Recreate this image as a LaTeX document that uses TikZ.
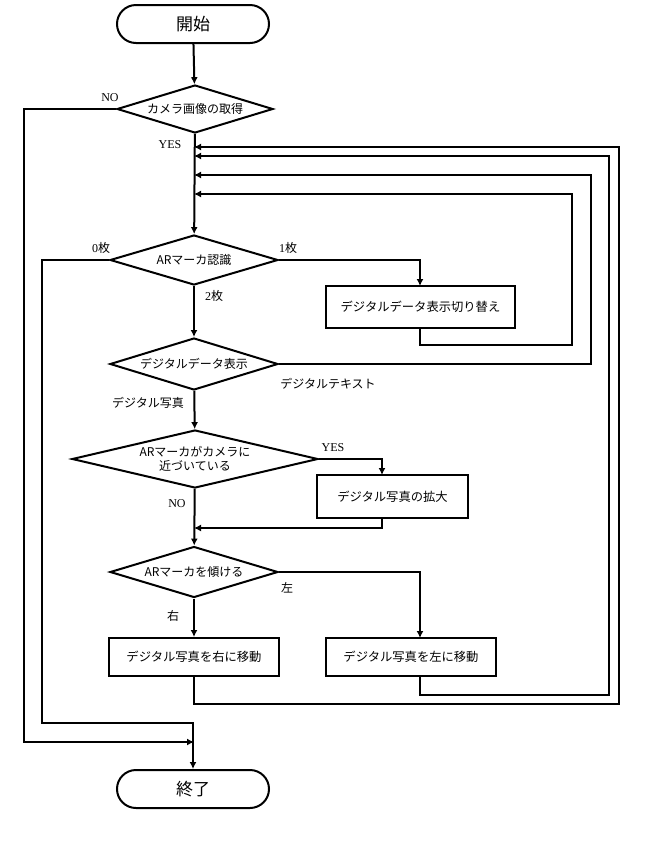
\documentclass[tikz,border=0pt]{standalone}
\usepackage{fontspec}
\setmainfont{Liberation Serif}
\newfontfamily\jp{Noto Sans CJK JP}
\usetikzlibrary{shapes.geometric,shapes.misc,arrows.meta}
\begin{document}
\begin{tikzpicture}[x=1pt,y=-1pt,line width=2pt,
  >={Latex[length=7pt,width=7pt]},
  term/.style={rounded rectangle,draw,minimum width=152pt,minimum height=38pt,inner sep=0pt,font=\jp\fontsize{17}{20}\selectfont},
  dec/.style={diamond,draw,inner sep=0pt,aspect=3.3,align=center,font=\jp\fontsize{12}{14}\selectfont},
  proc/.style={rectangle,draw,inner sep=0pt,font=\jp\fontsize{12.3}{14}\selectfont},
  lbl/.style={inner sep=0pt,font=\fontsize{12}{14}\selectfont},
  jlbl/.style={inner sep=0pt,font=\jp\fontsize{12}{14}\selectfont}]
\useasboundingbox (0,0) rectangle (658,855);
\fill[white] (0,0) rectangle (658,855);
% nodes
\node[term] (start) at (193,24) {開始};
\node[dec,minimum width=156pt,minimum height=48pt] (d1) at (195,109) {カメラ画像の取得};
\node[dec,minimum width=168pt,minimum height=50pt] (d2) at (194,260) {ARマーカ認識};
\node[proc,minimum width=189pt,minimum height=42pt] (b1) at (420.5,307) {デジタルデータ表示切り替え};
\node[dec,minimum width=168pt,minimum height=52pt] (d3) at (194,364) {デジタルデータ表示};
\node[dec,aspect=4.2,minimum width=246pt,minimum height=58pt] (d4) at (195,459) {ARマーカがカメラに\\近づいている};
\node[proc,minimum width=151pt,minimum height=43pt] (b2) at (392.5,496.5) {デジタル写真の拡大};
\node[dec,minimum width=168pt,minimum height=51pt] (d5) at (194,572) {ARマーカを傾ける};
\node[proc,minimum width=170pt,minimum height=38pt] (b3) at (194,657) {デジタル写真を右に移動};
\node[proc,minimum width=170pt,minimum height=38pt] (b4) at (411,657) {デジタル写真を左に移動};
\node[term] (end) at (193,789) {終了};
% labels
\node[lbl] (lno1) at (110,98) {NO};
\node[lbl] (lyes1) at (170,145) {YES};
\node[lbl] (l0) at (101,248) {0{\jp 枚}};
\node[lbl] (l1) at (288,248) {1{\jp 枚}};
\node[lbl] (l2) at (214,296) {2{\jp 枚}};
\node[jlbl] (ltext) at (328,384) {デジタルテキスト};
\node[jlbl] (lphoto) at (148,403) {デジタル写真};
\node[lbl] (lyes2) at (333,448) {YES};
\node[lbl] (lno2) at (177,504) {NO};
\node[jlbl] (lleft) at (287,588) {左};
\node[jlbl] (lright) at (173,616) {右};
% junction coordinates
\coordinate (ja) at (194,147);
\coordinate (jb) at (194,156);
\coordinate (jc) at (194,175);
\coordinate (jd) at (194,194);
\coordinate (jn) at (194,742);
\coordinate (j2) at (194,528);
\coordinate (b2in) at (382,475);
\coordinate (b4in) at (420,638);
\coordinate (b1in) at (420,286);
% main flow
\draw[->] (start) -- (d1);
\draw[->] (d1) -- (d2);
\draw[->] (d2) -- (d3);
\draw[->] (d3) -- (d4);
\draw[->] (d4) -- (d5);
\draw[->] (d5) -- (b3);
% branches
\draw[->] (d1.west) -| (24,742) -- (jn);
\draw[->] (d2.west) -| (42,723) -| (end.north);
\draw[->] (d2.east) -| (b1in);
\draw[->] (d4.east) -| (b2in);
\draw[->] (b2in |- b2.south) |- (j2);
\draw[->] (d5.east) -| (b4in);
% loops back
\draw[->] (b1in |- b1.south) |- (572,345) |- (jd);
\draw[->] (d3.east) -| (591,175) -- (jc);
\draw[->] (b4in |- b4.south) |- (609,695) |- (jb);
\draw[->] (b3.south) |- (619,704) |- (ja);
\end{tikzpicture}
\end{document}
